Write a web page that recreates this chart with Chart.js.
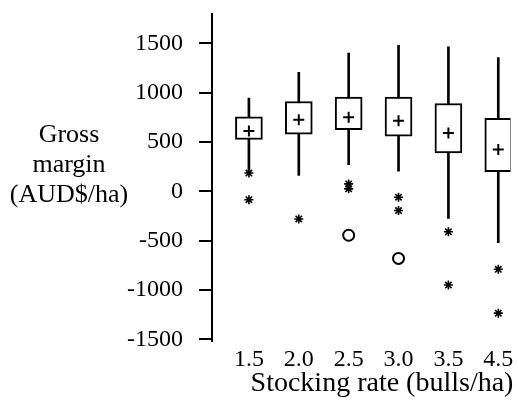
<!DOCTYPE html>
<html>
<head>
<meta charset="utf-8">
<script src="https://cdn.jsdelivr.net/npm/chart.js@4.4.0/dist/chart.umd.min.js"></script>
<style>
  body { margin: 0; background: #fff; }
  canvas { display: block; }
</style>
</head>
<body>
<canvas id="boxChart" width="518" height="404"></canvas>
<script>
// data
const rateLabels = ['1.5', '2.0', '2.5', '3.0', '3.5', '4.5'];
const whiskerLow = [215, 160, 270, 205, -275, -520];
const boxLow = [525, 580, 625, 560, 390, 200];
const boxHigh = [755, 910, 955, 955, 890, 740];
const whiskerHigh = [945, 1205, 1400, 1480, 1465, 1355];
const means = [610, 725, 750, 715, 590, 425];
const starOutliers = [[185, -85], [-280], [75, 25], [-60, -195], [-410, -950], [-790, -1235]];
const circleOutliers = [[], [], [-445], [-680], [], []];
const yTicks = [-1500, -1000, -500, 0, 500, 1000, 1500];
const yTitle = ['Gross', 'margin', '(AUD$/ha)'];
const xTitle = 'Stocking rate (bulls/ha)';

const serif = 'Liberation Serif';

function flatten(groups) {
    const pts = [];
    groups.forEach((vals, i) => vals.forEach(v => pts.push({ x: i, y: v })));
    return pts;
}

// the axis titles sit horizontally, so draw them by hand
const axisTitles = {
    id: 'axisTitles',
    afterDraw(chart) {
        const ctx = chart.ctx;
        ctx.save();
        ctx.fillStyle = '#000';
        ctx.textAlign = 'center';
        ctx.textBaseline = 'alphabetic';
        ctx.font = `26px "${serif}"`;
        yTitle.forEach((line, i) => ctx.fillText(line, 69, 142 + i * 30));
        ctx.font = `28px "${serif}"`;
        ctx.fillText(xTitle, 382, 391);
        ctx.restore();
    }
};

new Chart(document.getElementById('boxChart'), {
    type: 'bar',
    data: {
        datasets: [
            {
                type: 'line',
                data: means.map((v, i) => ({ x: i, y: v })),
                showLine: false,
                pointStyle: 'cross',
                pointRadius: 5.5,
                borderColor: '#000',
                borderWidth: 2,
                order: 0
            },
            {
                type: 'line',
                data: flatten(starOutliers),
                showLine: false,
                pointStyle: 'star',
                pointRadius: 4.5,
                borderColor: '#000',
                borderWidth: 1.6,
                order: 0
            },
            {
                type: 'line',
                data: flatten(circleOutliers),
                showLine: false,
                pointStyle: 'circle',
                pointRadius: 5.5,
                backgroundColor: '#fff',
                borderColor: '#000',
                borderWidth: 2,
                order: 0
            },
            {
                data: boxLow.map((v, i) => ({ x: i, y: [v, boxHigh[i]] })),
                backgroundColor: '#fff',
                borderColor: '#000',
                borderWidth: 2,
                borderSkipped: false,
                barThickness: 27,
                grouped: false,
                order: 1
            },
            {
                data: whiskerLow.map((v, i) => ({ x: i, y: [v, whiskerHigh[i]] })),
                backgroundColor: '#000',
                borderWidth: 0,
                barThickness: 2,
                grouped: false,
                order: 2
            }
        ]
    },
    options: {
        responsive: false,
        animation: false,
        layout: { padding: { top: 14, right: 0, bottom: 0, left: 0 } },
        plugins: { legend: { display: false }, tooltip: { enabled: false } },
        scales: {
            x: {
                type: 'linear',
                offset: false,
                min: -0.74,
                max: 5.245,
                grid: { display: false, drawTicks: false },
                border: { display: false },
                afterBuildTicks: s => { s.ticks = rateLabels.map((_, i) => ({ value: i })); },
                afterFit: s => { s.height = 63; s.paddingLeft = 0; s.paddingRight = 0; },
                ticks: {
                    autoSkip: false,
                    maxRotation: 0,
                    padding: 4,
                    color: '#000',
                    font: { family: serif, size: 24 },
                    callback: v => rateLabels[v]
                }
            },
            y: {
                type: 'linear',
                bounds: 'data',
                min: -1517,
                max: 1797,
                grid: { display: true, drawOnChartArea: false, drawTicks: true, tickLength: 13, color: '#000', lineWidth: 2 },
                border: { display: true, color: '#000', width: 2 },
                afterBuildTicks: s => { s.ticks = yTicks.map(v => ({ value: v })); },
                afterFit: s => { s.width = 212; s.paddingTop = 0; s.paddingBottom = 0; },
                ticks: {
                    padding: 16,
                    color: '#000',
                    font: { family: serif, size: 24 },
                    callback: v => String(v)
                }
            }
        }
    },
    plugins: [axisTitles]
});
</script>
</body>
</html>
